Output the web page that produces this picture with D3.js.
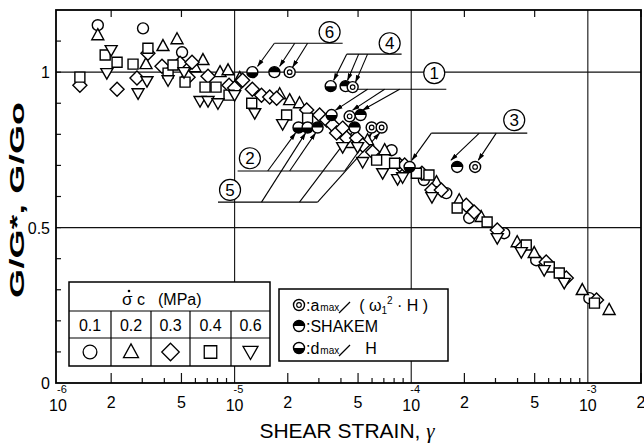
<!DOCTYPE html>
<html><head><meta charset="utf-8">
<script src="https://cdn.jsdelivr.net/npm/d3@7"></script>
<style>
body{margin:0;background:#fff}
svg{font-family:"Liberation Sans",Arial,sans-serif;display:block}
</style>
</head><body>
<svg id="chart" width="644" height="444"></svg>
<script>
// measured points: [shear strain, G/G0]
const sc01 = [[1.68e-6,1.151],[3.03e-6,1.141],[5.04e-6,1.064],[7.74e-5,0.749],[1.18e-4,0.653],
  [1.58e-4,0.611],[2.13e-4,0.531],[3.36e-4,0.482],[5.10e-4,0.395],[1.02e-3,0.273]];
const sc02 = [[1.68e-6,1.119],[3.15e-6,1.026],[3.93e-6,1.084],[4.72e-6,1.106],[5.97e-6,1.016],
  [6.62e-6,1.039],[8.27e-6,1.0],[9.18e-6,1.006],[1.07e-5,0.981],[1.80e-5,0.929],[2.05e-5,0.910],
  [2.33e-5,0.900],[4.48e-5,0.772],[5.66e-5,0.781],[7.07e-5,0.749],[1.39e-4,0.646],[1.87e-4,0.588],
  [2.49e-4,0.534],[3.98e-4,0.453],[4.97e-4,0.418],[9.30e-4,0.299],[1.32e-3,0.235]];
const sc03 = [[1.33e-6,0.958],[2.16e-6,0.945],[2.80e-6,0.981],[3.23e-6,1.061],[3.88e-6,1.019],
  [4.91e-6,1.029],[5.45e-6,0.984],[5.74e-6,1.032],[7.07e-6,0.987],[9.30e-6,0.958],[1.0e-5,0.949],
  [1.11e-5,0.974],[1.26e-5,0.945],[1.42e-5,0.926],[1.58e-5,0.920],[1.73e-5,0.916],[2.56e-5,0.878],
  [3.03e-5,0.862],[3.32e-5,0.846],[3.59e-5,0.830],[3.78e-5,0.804],[4.09e-5,0.820],[4.31e-5,0.788],
  [4.91e-5,0.788],[5.31e-5,0.765],[6.05e-5,0.743],[8.60e-5,0.701],[9.18e-5,0.701],[1.15e-4,0.675],
  [1.31e-4,0.621],[1.48e-4,0.621],[2.05e-4,0.572],[2.27e-4,0.550],[3.07e-4,0.492],[4.25e-4,0.437],
  [5.81e-4,0.389],[7.55e-4,0.338],[1.12e-3,0.267]];
const sc04 = [[1.33e-6,0.984],[1.85e-6,1.055],[2.16e-6,1.032],[2.66e-6,1.026],[3.23e-6,1.077],
  [4.20e-6,0.997],[4.48e-6,1.023],[5.24e-6,0.968],[6.80e-6,0.952],[7.85e-6,0.952],[9.30e-6,0.926],
  [1.25e-5,0.900],[1.97e-5,0.862],[2.59e-5,0.852],[6.37e-5,0.717],[8.05e-5,0.707],[1.07e-4,0.675],
  [1.26e-4,0.669],[1.82e-4,0.563],[2.69e-4,0.518],[4.48e-4,0.444],[6.05e-4,0.373],[6.89e-4,0.354],
  [1.09e-3,0.257]];
const sc06 = [[1.89e-6,0.997],[2.00e-6,1.071],[2.84e-6,0.932],[3.19e-6,0.971],[4.20e-6,0.974],
  [5.17e-6,1.0],[6.37e-6,0.907],[7.07e-6,0.907],[8.05e-6,0.900],[1.0e-5,0.926],[1.30e-5,0.868],
  [1.87e-5,0.833],[4.09e-5,0.759],[4.97e-5,0.759],[5.31e-5,0.711],[6.89e-5,0.675],[8.37e-5,0.656],
  [8.94e-5,0.662],[1.31e-4,0.598],[3.07e-4,0.466],[4.20e-4,0.421],[5.66e-4,0.363],[7.35e-4,0.322]];

// back-calculated points, cases 6,4,1,2,5,3
const amaxPts = [[2.05e-5,1.0],[4.66e-5,0.952],[4.48e-5,0.858],[5.97e-5,0.822],[6.80e-5,0.822],[2.30e-4,0.695]];
const shakemPts = [[1.68e-5,1.0],[4.25e-5,0.955],[5.17e-5,0.862],[2.95e-5,0.822],[4.78e-5,0.822],[1.82e-4,0.695]];
const dmaxPts = [[1.26e-5,1.0],[3.50e-5,0.955],[3.54e-5,0.862],[2.30e-5,0.822],[2.59e-5,0.822],[9.79e-5,0.695]];

// case labels and leaders
const caseNames = ["1","2","3","4","5","6"];
const casePos = [[1.35e-4,0.997],[1.22e-5,0.723],[3.83e-4,0.846],[7.55e-5,1.093],[9.42e-6,0.621],[3.45e-5,1.129]];
const shelves = [
  [[4.20e-5,0.945],[1.58e-4,0.945]],
  [[1.04e-5,0.682],[4.20e-5,0.682]],
  [[1.30e-4,0.804],[4.54e-4,0.804]],
  [[4.31e-5,1.058],[8.82e-5,1.058]],
  [[8.05e-6,0.582],[2.95e-5,0.582]],
  [[1.68e-5,1.093],[4.09e-5,1.093]]];
const spokes = [
  [[5.66e-5,0.945],[3.73e-5,0.878]],[[7.07e-5,0.945],[4.66e-5,0.878]],[[8.60e-5,0.945],[5.31e-5,0.878]],
  [[1.54e-5,0.682],[2.21e-5,0.804]],[[2.05e-5,0.682],[2.87e-5,0.804]],[[4.20e-5,0.682],[5.97e-5,0.804]],
  [[1.30e-4,0.804],[1.01e-4,0.717]],[[2.43e-4,0.804],[1.68e-4,0.717]],[[3.03e-4,0.804],[2.40e-4,0.717]],
  [[4.31e-5,1.058],[3.64e-5,0.974]],[[5.04e-5,1.058],[4.36e-5,0.974]],[[5.66e-5,1.058],[4.84e-5,0.968]],
  [[1.42e-5,0.582],[2.52e-5,0.804]],[[2.33e-5,0.582],[4.60e-5,0.804]],[[2.95e-5,0.582],[6.62e-5,0.804]],
  [[1.68e-5,1.093],[1.35e-5,1.019]],[[2.19e-5,1.093],[1.80e-5,1.019]],[[2.59e-5,1.093],[2.13e-5,1.016]]];

const pressures = ["0.1","0.2","0.3","0.4","0.6"];
const kinds = ["circle","tri","diamond","square","itri"];
const seriesData = [sc01, sc02, sc03, sc04, sc06];

const xDecades = [1e-6,1e-5,1e-4,1e-3];
const xMinorLabels = [2,5];
const yLabels = [0,0.5,1];

const svg = d3.select("#chart");
const x = d3.scaleLog().domain([1e-6,2e-3]).range([58,641]);
const y = d3.scaleLinear().domain([0,1.2]).range([383,10]);
const L = 56, R = 641, T = 10, B = 383;

function shape(kind, s = 1) {
  const p = d3.path();
  if (kind === "circle") { p.arc(0,0,5.5*s,0,2*Math.PI); }
  else if (kind === "tri") { p.moveTo(0,-6.5*s); p.lineTo(6*s,4.5*s); p.lineTo(-6*s,4.5*s); p.closePath(); }
  else if (kind === "itri") { p.moveTo(0,6*s); p.lineTo(6*s,-4.5*s); p.lineTo(-6*s,-4.5*s); p.closePath(); }
  else if (kind === "diamond") { p.moveTo(0,-7*s); p.lineTo(7*s,0); p.lineTo(0,7*s); p.lineTo(-7*s,0); p.closePath(); }
  else if (kind === "square") { p.rect(-5*s,-5*s,10*s,10*s); }
  return p.toString();
}

svg.append("defs").append("marker").attr("id","arr")
  .attr("viewBox","0 0 10 10").attr("refX",9).attr("refY",5)
  .attr("markerWidth",7).attr("markerHeight",7).attr("orient","auto")
  .append("path").attr("d","M0,2L10,5L0,8Z").attr("fill","#000");

// grid
const grid = svg.append("g").attr("stroke","#111").attr("stroke-width",1.1);
grid.selectAll("line.v").data([1e-5,1e-4,1e-3]).join("line")
  .attr("x1",d=>x(d)).attr("x2",d=>x(d)).attr("y1",T).attr("y2",B);
grid.selectAll("line.h").data([0.5,1]).join("line")
  .attr("x1",L).attr("x2",R).attr("y1",d=>y(d)).attr("y2",d=>y(d));

// ticks
const minor = [];
[1e-6,1e-5,1e-4,1e-3].forEach(d => { for (let k = 2; k <= 9; k++) if (d*k <= 2e-3) minor.push([d*k,k]); });
const tk = svg.append("g").attr("stroke","#111").attr("stroke-width",1.2);
tk.selectAll("line.b").data(minor).join("line")
  .attr("x1",d=>x(d[0])).attr("x2",d=>x(d[0])).attr("y1",B)
  .attr("y2",d=>B-((d[1]===2||d[1]===5)?10:5));
tk.selectAll("line.t").data(minor.filter(d=>d[1]===2||d[1]===5)).join("line")
  .attr("x1",d=>x(d[0])).attr("x2",d=>x(d[0])).attr("y1",T).attr("y2",T+7);
tk.selectAll("line.y").data(d3.range(1,12).map(i=>i/10)).join("line")
  .attr("x1",L).attr("x2",L+5).attr("y1",d=>y(d)).attr("y2",d=>y(d));

// frame
svg.append("rect").attr("x",L).attr("y",T).attr("width",R-L).attr("height",B-T)
  .attr("fill","none").attr("stroke","#000").attr("stroke-width",1.8);

// leaders
const ann = svg.append("g").attr("stroke","#000").attr("stroke-width",1.1).attr("fill","none");
ann.selectAll("line.s").data(shelves).join("line")
  .attr("x1",d=>x(d[0][0])).attr("y1",d=>y(d[0][1])).attr("x2",d=>x(d[1][0])).attr("y2",d=>y(d[1][1]));
ann.selectAll("line.k").data(spokes).join("line")
  .attr("x1",d=>x(d[0][0])).attr("y1",d=>y(d[0][1])).attr("x2",d=>x(d[1][0])).attr("y2",d=>y(d[1][1]))
  .attr("marker-end","url(#arr)");

// measured data
const pts = svg.append("g");
seriesData.forEach((data, i) => {
  pts.append("g").selectAll("path").data(data).join("path")
    .attr("transform", d => `translate(${x(d[0])},${y(d[1])})`)
    .attr("d", shape(kinds[i]))
    .attr("fill","#fff").attr("stroke","#000").attr("stroke-width",1.4);
});

// special markers
function halfCircle(g, top) {
  const r = 5.5;
  g.append("circle").attr("r",r).attr("fill","#fff").attr("stroke","#000").attr("stroke-width",1.4);
  g.append("path").attr("d", `M${-r},0A${r},${r} 0 0 ${top?1:0} ${r},0Z`).attr("fill","#000");
}
function dblCircle(g) {
  g.append("circle").attr("r",5.5).attr("fill","#fff").attr("stroke","#000").attr("stroke-width",1.4);
  g.append("circle").attr("r",2.3).attr("fill","none").attr("stroke","#000").attr("stroke-width",1.2);
}
const sp = svg.append("g");
dmaxPts.forEach(d => halfCircle(sp.append("g").attr("transform",`translate(${x(d[0])},${y(d[1])})`), false));
shakemPts.forEach(d => halfCircle(sp.append("g").attr("transform",`translate(${x(d[0])},${y(d[1])})`), true));
amaxPts.forEach(d => dblCircle(sp.append("g").attr("transform",`translate(${x(d[0])},${y(d[1])})`)));

// case labels
const cl = svg.append("g").selectAll("g").data(casePos).join("g")
  .attr("transform", d => `translate(${x(d[0])},${y(d[1])})`);
cl.append("circle").attr("r",10.5).attr("fill","#fff").attr("stroke","#000").attr("stroke-width",1.2);
cl.append("text").attr("text-anchor","middle").attr("y",6).attr("font-size",17)
  .text((d,i) => caseNames[i]);

// axis labels
const ax = svg.append("g").attr("fill","#000");
xDecades.forEach(d => {
  const e = Math.round(Math.log10(d));
  ax.append("text").attr("x",x(d)).attr("y",411).attr("text-anchor","middle").attr("font-size",16).text("10");
  ax.append("text").attr("x",x(d)-1).attr("y",393).attr("font-size",11).text(String(e));
});
xDecades.forEach(d => xMinorLabels.forEach(k => {
  if (d*k <= 2e-3) ax.append("text").attr("x",x(d*k)).attr("y",408).attr("text-anchor","middle").attr("font-size",16).text(k);
}));
ax.selectAll("text.y").data(yLabels).join("text")
  .attr("x",50).attr("y",d=>y(d)+6).attr("text-anchor","end").attr("font-size",16)
  .text(d=>d);
ax.append("text").attr("transform","translate(24,200) rotate(-90)").attr("text-anchor","middle")
  .attr("font-size",20).attr("font-weight","bold").attr("textLength",196).attr("lengthAdjust","spacingAndGlyphs")
  .text("G/G*, G/Go");
const xt = ax.append("text").attr("x",347).attr("y",438).attr("text-anchor","middle").attr("font-size",21);
xt.append("tspan").text("SHEAR STRAIN, ");
xt.append("tspan").attr("font-family","Liberation Serif, serif").attr("font-style","italic").text("γ");

// legend: confining pressure table
const lg = svg.append("g");
lg.append("rect").attr("x",69).attr("y",282).attr("width",201).attr("height",84)
  .attr("fill","#fff").attr("stroke","#000").attr("stroke-width",1.5);
const colX = [69,111,151,190,231,270];
lg.selectAll("line.h").data([311,338]).join("line")
  .attr("x1",69).attr("x2",270).attr("y1",d=>d).attr("y2",d=>d).attr("stroke","#000").attr("stroke-width",1.2);
lg.selectAll("line.v").data(colX.slice(1,5)).join("line")
  .attr("x1",d=>d).attr("x2",d=>d).attr("y1",311).attr("y2",366).attr("stroke","#000").attr("stroke-width",1.2);
lg.append("text").attr("x",122).attr("y",305).attr("font-size",17).text("\u03C3");
lg.append("circle").attr("cx",129).attr("cy",291).attr("r",1.3).attr("fill","#000");
lg.append("text").attr("x",137).attr("y",305).attr("font-size",16).text("c");
lg.append("text").attr("x",158).attr("y",305).attr("font-size",16).text("(MPa)");
pressures.forEach((p,i) => {
  const cx = (colX[i]+colX[i+1])/2;
  lg.append("text").attr("x",cx).attr("y",331).attr("text-anchor","middle").attr("font-size",16).text(p);
  lg.append("path").attr("transform",`translate(${cx},352)`).attr("d",shape(kinds[i],1.25))
    .attr("fill","#fff").attr("stroke","#000").attr("stroke-width",1.3);
});

// legend: method
const lm = svg.append("g");
lm.append("rect").attr("x",279).attr("y",289).attr("width",169).attr("height",72)
  .attr("fill","#fff").attr("stroke","#000").attr("stroke-width",1.5);
dblCircle(lm.append("g").attr("transform","translate(299,305)"));
halfCircle(lm.append("g").attr("transform","translate(299,326)"), true);
halfCircle(lm.append("g").attr("transform","translate(299,348)"), false);
const t1 = lm.append("text").attr("x",306).attr("y",311).attr("font-size",16);
t1.append("tspan").text(":a");
t1.append("tspan").attr("font-size",10).attr("dx",1).text("max");
t1.append("tspan").attr("dx",20).text("( \u03C9");
t1.append("tspan").attr("font-size",10).attr("dy",3).text("1");
t1.append("tspan").attr("font-size",10).attr("dy",-10).text("2");
t1.append("tspan").attr("dy",7).text(" \u00B7 H )");
lm.append("line").attr("x1",339).attr("y1",313).attr("x2",350).attr("y2",302).attr("stroke","#000").attr("stroke-width",1.3);
lm.append("text").attr("x",306).attr("y",332).attr("font-size",16).text(":SHAKEM");
const t3 = lm.append("text").attr("x",306).attr("y",354).attr("font-size",16);
t3.append("tspan").text(":d");
t3.append("tspan").attr("font-size",10).attr("dx",1).text("max");
t3.append("tspan").attr("dx",26).text("H");
lm.append("line").attr("x1",339).attr("y1",356).attr("x2",350).attr("y2",345).attr("stroke","#000").attr("stroke-width",1.3);
</script>
</body></html>
